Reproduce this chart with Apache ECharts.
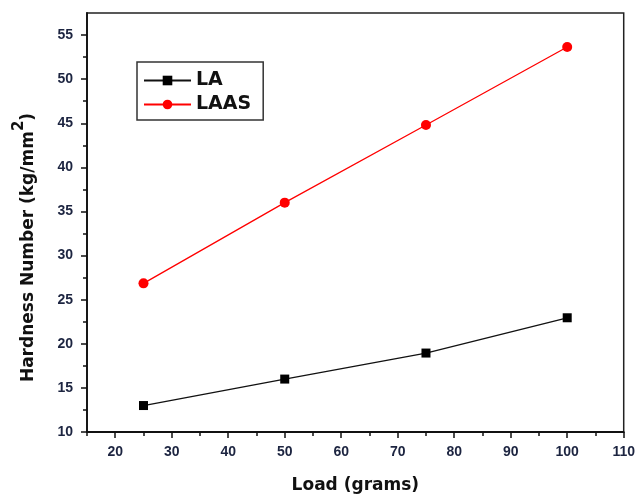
<!DOCTYPE html>
<html><head><meta charset="utf-8">
<script src="https://cdn.jsdelivr.net/npm/echarts@6/dist/echarts.min.js"></script>
<style>html,body{margin:0;padding:0;background:#fff}#c{width:638px;height:499px}</style>
</head><body><div id="c"></div>
<script>
const loads = [25, 50, 75, 100];
const laValues = [13, 16, 18.95, 22.95];
const laasValues = [26.85, 36.0, 44.8, 53.65];
const xMajorTicks = [20, 30, 40, 50, 60, 70, 80, 90, 100, 110];
const xMinorTicks = [15, 25, 35, 45, 55, 65, 75, 85, 95, 105];
const yMajorTicks = [10, 15, 20, 25, 30, 35, 40, 45, 50, 55];
const yMinorTicks = [12.5, 17.5, 22.5, 27.5, 32.5, 37.5, 42.5, 47.5, 52.5];

const chart = echarts.init(document.getElementById('c'), null, {renderer: 'canvas'});
const labelColor = '#1c2440';
const font = 'Liberation Sans, Arial, sans-serif';
const titleFont = 'DejaVu Sans, Verdana, sans-serif';
const xMin = 15, xMax = 110, yMin = 10, yMax = 57.5;
chart.setOption({
  animation: false,
  backgroundColor: '#fff',
  grid: {left: 87, top: 13, right: 14, bottom: 61, show: true, borderColor: '#222', borderWidth: 1.5, containLabel: false},
  legend: {
    left: 137, top: 62, orient: 'vertical',
    data: ['LA', 'LAAS'],
    borderColor: '#333', borderWidth: 1.5,
    padding: [9, 12, 6, 6],
    itemWidth: 47, itemHeight: 12, itemGap: 5,
    textStyle: {fontFamily: titleFont, fontWeight: 'bold', fontSize: 19, color: '#111'}
  },
  xAxis: [{
    type: 'value', min: xMin, max: xMax,
    name: 'Load (grams)', nameLocation: 'middle', nameGap: 45,
    nameTextStyle: {fontFamily: titleFont, fontWeight: 'bold', fontSize: 17, color: '#111'},
    axisLine: {show: true, onZero: false, lineStyle: {color: '#111', width: 1.8}},
    axisTick: {show: true, inside: false, length: 6, lineStyle: {color: '#111', width: 1.5}, customValues: xMajorTicks},
    axisLabel: {fontFamily: font, fontWeight: 'bold', fontSize: 14, color: labelColor, margin: 13, customValues: xMajorTicks},
    splitLine: {show: false}
  }, {
    type: 'value', min: xMin, max: xMax, position: 'bottom',
    axisLine: {show: false},
    axisTick: {show: true, length: 4, lineStyle: {color: '#111', width: 1.5}, customValues: xMinorTicks},
    axisLabel: {show: false},
    splitLine: {show: false}
  }],
  yAxis: [{
    type: 'value', min: yMin, max: yMax,
    name: '{a|Hardness Number (kg/mm}{s|2}{a|)}', nameLocation: 'middle', nameGap: 50, nameRotate: 90,
    nameTextStyle: {padding: [0, 50, 0, 0], rich: {
      a: {fontFamily: titleFont, fontWeight: 'bold', fontSize: 17, color: '#111', verticalAlign: 'bottom'},
      s: {fontFamily: titleFont, fontWeight: 'bold', fontSize: 15, color: '#111', verticalAlign: 'top', padding: [0, 0, 10, 0]}
    }},
    axisLine: {show: true, onZero: false, lineStyle: {color: '#111', width: 1.8}},
    axisTick: {show: true, length: 6, lineStyle: {color: '#111', width: 1.5}, customValues: yMajorTicks},
    axisLabel: {fontFamily: font, fontWeight: 'bold', fontSize: 14, color: labelColor, margin: 14, customValues: yMajorTicks},
    splitLine: {show: false}
  }, {
    type: 'value', min: yMin, max: yMax, position: 'left',
    axisLine: {show: false},
    axisTick: {show: true, length: 4, lineStyle: {color: '#111', width: 1.5}, customValues: yMinorTicks},
    axisLabel: {show: false},
    splitLine: {show: false}
  }],
  series: [{
    name: 'LA', type: 'line', xAxisIndex: 0, yAxisIndex: 0,
    data: loads.map((x, i) => [x, laValues[i]]),
    symbol: 'rect', symbolSize: 9,
    itemStyle: {color: '#000'}, lineStyle: {color: '#111', width: 1.3}
  }, {
    name: 'LAAS', type: 'line', xAxisIndex: 0, yAxisIndex: 0,
    data: loads.map((x, i) => [x, laasValues[i]]),
    symbol: 'circle', symbolSize: 10,
    itemStyle: {color: '#ff0000'}, lineStyle: {color: '#ff0000', width: 1.3}
  }]
});
</script></body></html>
